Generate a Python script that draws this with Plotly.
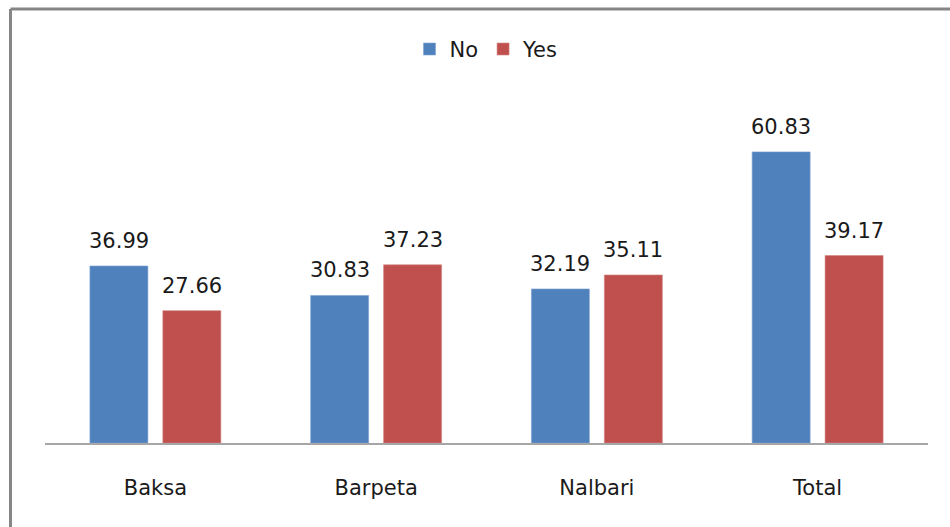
import plotly.graph_objects as go

# Respondents by district, split by answer (percent)
districts = ["Baksa", "Barpeta", "Nalbari", "Total"]
no_values = [36.99, 30.83, 32.19, 60.83]
yes_values = [27.66, 37.23, 35.11, 39.17]

BLUE = "#4F81BD"
RED = "#C0504D"
FONT = "DejaVu Sans, Liberation Sans, sans-serif"
TEXT = "#1a1a1a"
FS = 21

W, H = 950, 527
L, R, T, B = 45, 22, 108, 84

fig = go.Figure()
fig.add_trace(go.Bar(name="No", x=districts, y=no_values, marker_color=BLUE,
                     marker_line=dict(width=0.6, color="#7FA3D1")))
fig.add_trace(go.Bar(name="Yes", x=districts, y=yes_values, marker_color=RED,
                     marker_line=dict(width=0.6, color="#D08482")))

# value labels above each bar, offset to the bar's slot within the group
plot_w = W - L - R
slot = plot_w / len(districts) * (1 - 0.339) / 2
for name, vals, sign in (("No", no_values, -1), ("Yes", yes_values, 1)):
    for d, v in zip(districts, vals):
        fig.add_annotation(x=d, y=v, text=f"{v:.2f}", showarrow=False,
                           xshift=sign * slot / 2, yanchor="bottom", yshift=11,
                           font=dict(family=FONT, size=FS, color=TEXT))

# chart frame (left and top edges)
plot_h = H - T - B
x_left = (10.5 - L) / plot_w
y_top = (H - B - 9) / plot_h
fig.add_shape(type="line", xref="paper", yref="paper", x0=x_left, x1=x_left,
              y0=-0.5, y1=y_top, line=dict(color="#868686", width=3))
fig.add_shape(type="line", xref="paper", yref="paper", x0=x_left, x1=1.2,
              y0=y_top, y1=y_top, line=dict(color="#868686", width=3))

fig.update_layout(
    width=W, height=H,
    margin=dict(l=L, r=R, t=T, b=B),
    paper_bgcolor="white", plot_bgcolor="white",
    barmode="group", bargap=0.339, bargroupgap=0.205,
    font=dict(family=FONT, size=FS, color=TEXT),
    showlegend=True,
    legend=dict(orientation="h", x=0.5, xanchor="center", y=1.175, yanchor="middle",
                font=dict(family=FONT, size=FS, color=TEXT),
                itemwidth=30, traceorder="normal", bgcolor="rgba(0,0,0,0)"),
    xaxis=dict(showline=True, linecolor="#A6A6A6", linewidth=2, ticks="",
               showgrid=False, ticklabelstandoff=25,
               tickfont=dict(family=FONT, size=FS, color=TEXT)),
    yaxis=dict(range=[0, 70], visible=False, showgrid=False, zeroline=False),
)

fig.write_html("out.html")
